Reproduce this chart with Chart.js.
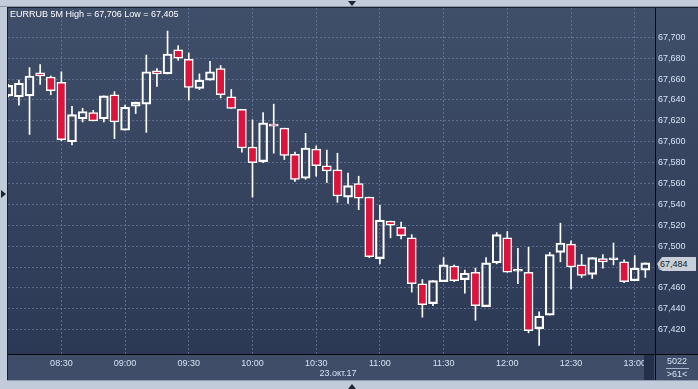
<!DOCTYPE html>
<html><head><meta charset="utf-8">
<script src="https://cdn.jsdelivr.net/npm/chart.js@4.4.1/dist/chart.umd.min.js"></script>
<style>
html,body{margin:0;padding:0;}
body{width:698px;height:389px;background:#c1cbd9;position:relative;overflow:hidden;font-family:"Liberation Sans",Arial,sans-serif;}
#panel{position:absolute;left:8px;top:8px;width:690px;height:372px;background:linear-gradient(to bottom,#3f4e69 0px,#2c3954 346px,#3f4d69 346px,#3f4d69 372px);}
#chart{position:absolute;left:0;top:0;}
.ln{position:absolute;}
.txt{position:absolute;font-size:9px;line-height:9px;white-space:nowrap;color:#d4e2f4;}
.tri{position:absolute;width:0;height:0;}
</style></head>
<body>
<div class="ln" style="left:0;top:6px;width:698px;height:1px;background:#8a95a7"></div>
<div class="ln" style="left:7px;top:7px;width:691px;height:1px;background:#1a2030"></div>
<div class="ln" style="left:7px;top:7px;width:1px;height:374px;background:#1a2030"></div>
<div id="panel"><canvas id="chart" width="690" height="372"></canvas></div>
<div class="ln" style="left:7px;top:380px;width:691px;height:1px;background:#8e9ab0"></div>
<div class="ln" style="left:8px;top:354px;width:690px;height:1px;background:#05070c"></div>
<div class="ln" style="left:655px;top:8px;width:1px;height:372px;background:#05070c"></div>
<div class="ln" style="left:644px;top:355px;width:10px;height:25px;background:#24304a"></div>
<div class="txt" id="title" style="left:10px;top:10px;color:#ffffff"></div>
<div class="txt" id="date" style="left:298px;top:369px;width:80px;text-align:center"></div>
<div class="txt" id="vol" style="left:662px;top:357px;width:30px;text-align:center"></div>
<div class="ln" style="left:666px;top:368px;width:23px;height:1px;background:#aab6c8"></div>
<div class="txt" id="cnt" style="left:662px;top:370px;width:30px;text-align:center"></div>
<div class="txt" id="tag" style="left:657px;top:257px;width:39px;height:14px;line-height:14px;background:#c8cfd9;color:#111827;clip-path:polygon(5px 0,100% 0,100% 100%,5px 100%,0 50%);text-indent:3px"></div>
<div class="tri" style="left:348px;top:1px;border-left:4.5px solid transparent;border-right:4.5px solid transparent;border-top:5px solid #1d2330"></div>
<div class="tri" style="left:348px;top:384px;border-left:4.5px solid transparent;border-right:4.5px solid transparent;border-bottom:5px solid #1d2330"></div>
<div class="tri" style="left:1px;top:190px;border-top:4.5px solid transparent;border-bottom:4.5px solid transparent;border-left:5px solid #1d2330"></div>
<script>
const titleText = 'EURRUB 5M High = 67,706 Low = 67,405';
const dateLabel = '23.окт.17';
const volText = '5022';
const countText = '>61<';
const lastPrice = 67.484;

const times = ['08:05','08:10','08:15','08:20','08:25','08:30','08:35','08:40','08:45','08:50','08:55',
'09:00','09:05','09:10','09:15','09:20','09:25','09:30','09:35','09:40','09:45','09:50','09:55',
'10:00','10:05','10:10','10:15','10:20','10:25','10:30','10:35','10:40','10:45','10:50','10:55',
'11:00','11:05','11:10','11:15','11:20','11:25','11:30','11:35','11:40','11:45','11:50','11:55',
'12:00','12:05','12:10','12:15','12:20','12:25','12:30','12:35','12:40','12:45','12:50','12:55',
'13:00','13:05'];

const openV = [67.644,67.643,67.644,67.666,67.662,67.657,67.600,67.622,67.628,67.622,67.645,
67.611,67.634,67.636,67.668,67.665,67.688,67.679,67.651,67.659,67.670,67.643,67.631,
67.595,67.581,67.617,67.613,67.588,67.565,67.593,67.577,67.573,67.547,67.560,67.547,
67.488,67.524,67.518,67.508,67.464,67.445,67.466,67.481,67.468,67.475,67.442,67.484,
67.508,67.476,67.475,67.421,67.434,67.494,67.502,67.482,67.473,67.488,67.487,67.485,
67.467,67.477];
const highV = [67.655,67.659,67.671,67.674,67.663,67.667,67.634,67.632,67.630,67.644,67.648,
67.635,67.638,67.683,67.670,67.706,67.692,67.685,67.665,67.677,67.673,67.650,67.631,
67.621,67.628,67.636,67.613,67.590,67.608,67.596,67.592,67.589,67.570,67.567,67.547,
67.539,67.524,67.523,67.511,67.468,67.467,67.489,67.482,67.477,67.479,67.489,67.513,
67.514,67.498,67.499,67.437,67.494,67.522,67.505,67.492,67.489,67.492,67.503,67.487,
67.491,67.484];
const lowV = [67.643,67.635,67.607,67.655,67.645,67.601,67.597,67.619,67.620,67.619,67.603,
67.611,67.627,67.609,67.653,67.665,67.678,67.640,67.650,67.659,67.642,67.632,67.590,
67.547,67.580,67.589,67.583,67.562,67.564,67.567,67.561,67.542,67.541,67.535,67.489,
67.483,67.508,67.507,67.456,67.432,67.443,67.466,67.466,67.455,67.429,67.442,67.483,
67.475,67.464,67.417,67.405,67.434,67.485,67.459,67.470,67.469,67.479,67.482,67.465,
67.467,67.470];
const closeV = [67.654,67.656,67.663,67.663,67.649,67.602,67.626,67.629,67.620,67.644,67.619,
67.633,67.638,67.667,67.665,67.684,67.680,67.652,67.659,67.667,67.645,67.632,67.594,
67.580,67.618,67.615,67.587,67.564,67.594,67.577,67.572,67.548,67.558,67.546,67.490,
67.525,67.520,67.510,67.464,67.444,67.467,67.482,67.467,67.474,67.443,67.484,67.511,
67.475,67.476,67.419,67.433,67.492,67.503,67.480,67.472,67.489,67.485,67.487,67.466,
67.479,67.484];

const yTickValues = [67.42,67.44,67.46,67.48,67.50,67.52,67.54,67.56,67.58,67.60,67.62,67.64,67.66,67.68,67.70];
const xTickLabels = ['08:30','09:00','09:30','10:00','10:30','11:00','11:30','12:00','12:30','13:00'];

const fmt = v => v.toFixed(3).replace('.', ',');
document.getElementById('title').textContent = titleText;
document.getElementById('date').textContent = dateLabel;
document.getElementById('vol').textContent = volText;
document.getElementById('cnt').textContent = countText;
document.getElementById('tag').textContent = fmt(lastPrice);

const idx = times.map((t, i) => i);
const upperWick = idx.map(i => ({x: i, y: [Math.max(openV[i], closeV[i]), highV[i]]}));
const lowerWick = idx.map(i => ({x: i, y: [lowV[i], Math.min(openV[i], closeV[i])]}));
const body = idx.map(i => ({x: i, y: [Math.min(openV[i], closeV[i]), Math.max(openV[i], closeV[i])]}));
const bodyColors = idx.map(i => closeV[i] < openV[i] ? '#dc143c' : 'rgba(0,0,0,0)');
const xTickIdx = xTickLabels.map(l => times.indexOf(l));

const gridColor = 'rgba(108,124,160,0.75)';
const tickFont = {family: '"Liberation Sans", Arial, sans-serif', size: 9};
const tickColor = '#d4e2f4';

new Chart(document.getElementById('chart'), {
  type: 'bar',
  data: {
    datasets: [
      {data: upperWick, backgroundColor: '#ffffff', borderWidth: 0, barThickness: 1, grouped: false},
      {data: lowerWick, backgroundColor: '#ffffff', borderWidth: 0, barThickness: 1, grouped: false},
      {data: body, backgroundColor: bodyColors, borderColor: '#ffffff', borderWidth: 1.5,
       borderSkipped: false, barThickness: 9, minBarLength: 2, grouped: false}
    ]
  },
  options: {
    responsive: false,
    animation: false,
    events: [],
    layout: {padding: 0},
    plugins: {legend: {display: false}, tooltip: {enabled: false}, title: {display: false}},
    scales: {
      x: {
        type: 'linear', min: -0.028, max: 60.91, offset: false, bounds: 'data',
        afterBuildTicks: s => { s.ticks = xTickIdx.map(v => ({value: v})); },
        afterFit: s => { s.height = 26; s.paddingLeft = 0; s.paddingRight = 0; },
        ticks: {callback: v => times[v], autoSkip: false, maxRotation: 0, minRotation: 0,
                padding: 4, color: tickColor, font: tickFont},
        grid: {offset: false, color: gridColor, drawTicks: false, lineWidth: 1},
        border: {display: false, dash: [2, 2]}
      },
      y: {
        type: 'linear', position: 'right', min: 67.3967, max: 67.7281, beginAtZero: false, bounds: 'data',
        afterBuildTicks: s => { s.ticks = yTickValues.map(v => ({value: v})); },
        afterFit: s => { s.width = 43; s.paddingTop = 0; s.paddingBottom = 0; },
        ticks: {callback: v => fmt(v), padding: 3, color: tickColor, font: tickFont},
        grid: {color: gridColor, drawTicks: false, lineWidth: 1},
        border: {display: false, dash: [2, 2]}
      }
    }
  }
});
</script>
</body></html>
